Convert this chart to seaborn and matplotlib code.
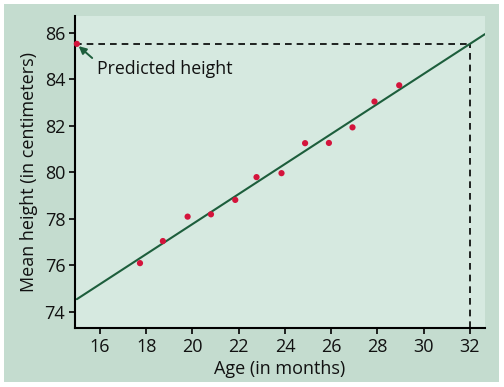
import numpy as np
import pandas as pd
import matplotlib.pyplot as plt
import seaborn as sns
from matplotlib.patches import Rectangle

# data
age = [17.73, 18.72, 19.79, 20.8, 21.85, 22.77, 23.85, 24.87, 25.9, 26.92, 27.87, 28.94]
height = [76.1, 77.05, 78.1, 78.2, 78.82, 79.8, 79.97, 81.26, 81.27, 81.94, 83.05, 83.75]
fit_intercept = 64.86
fit_slope = 0.646
line_ages = [15, 32.65]
pred_age = 32
pred_height = fit_intercept + fit_slope * pred_age

x_ticks = [16, 18, 20, 22, 24, 26, 28, 30, 32]
y_ticks = [74, 76, 78, 80, 82, 84, 86]

df = pd.DataFrame({'age': age, 'height': height})
line_df = pd.DataFrame({'age': line_ages,
                        'height': [fit_intercept + fit_slope * a for a in line_ages]})

sns.set_style('ticks')
plt.rcParams['font.family'] = ['Open Sans', 'DejaVu Sans']

fig = plt.figure(figsize=(5.04, 3.87), dpi=100)
fig.patch.set_facecolor('white')
# darker green frame behind everything
frame = Rectangle((4 / 504, 5 / 387), 495 / 504, 378 / 387, transform=fig.transFigure,
                  facecolor='#c4dccf', edgecolor='none', zorder=-5)
fig.add_artist(frame)
ax = fig.add_axes([75 / 504, 1 - 328 / 387, 410 / 504, 312 / 387])
ax.set_zorder(1)
ax.set_facecolor('#d6e9e0')

sns.lineplot(data=line_df, x='age', y='height', color='#1d5e3c', linewidth=1.5, ax=ax, zorder=2)
sns.scatterplot(data=df, x='age', y='height', color='#d4143c', s=20, edgecolor='none', ax=ax, zorder=3)

# predicted height guide
ax.plot([14.92, pred_age], [pred_height, pred_height], color='black', linestyle=(0, (4, 3)), linewidth=1.2, zorder=1)
ax.plot([pred_age, pred_age], [73.31, pred_height], color='black', linestyle=(0, (4, 3)), linewidth=1.2, zorder=1)
ax.scatter([15], [pred_height], color='#d4143c', s=20, edgecolor='none', zorder=4, clip_on=False)
ax.annotate('Predicted height', xy=(15.08, pred_height - 0.1), xytext=(15.85, 84.45),
            fontsize=12.8, va='center', ha='left', color='#111111',
            arrowprops=dict(arrowstyle='-|>', color='#1d5e3c', lw=1.4, mutation_scale=11,
                            shrinkA=1, shrinkB=0, relpos=(0.0, 0.9)))

ax.set_xlim(14.92, 32.65)
ax.set_ylim(73.31, 86.73)
ax.set_xticks(x_ticks)
ax.set_yticks(y_ticks)
ax.tick_params(labelsize=13, length=4, width=1.3, direction='out', colors='#111111', pad=3)
ax.set_xlabel('Age (in months)', fontsize=13, labelpad=3, color='#111111')
ax.set_ylabel('Mean height (in centimeters)', fontsize=13, labelpad=5, color='#111111')
for s in ['top', 'right']:
    ax.spines[s].set_visible(False)
for s in ['left', 'bottom']:
    ax.spines[s].set_linewidth(1.5)
    ax.spines[s].set_color('black')

fig.savefig('out.png', dpi=100, facecolor=fig.get_facecolor())
